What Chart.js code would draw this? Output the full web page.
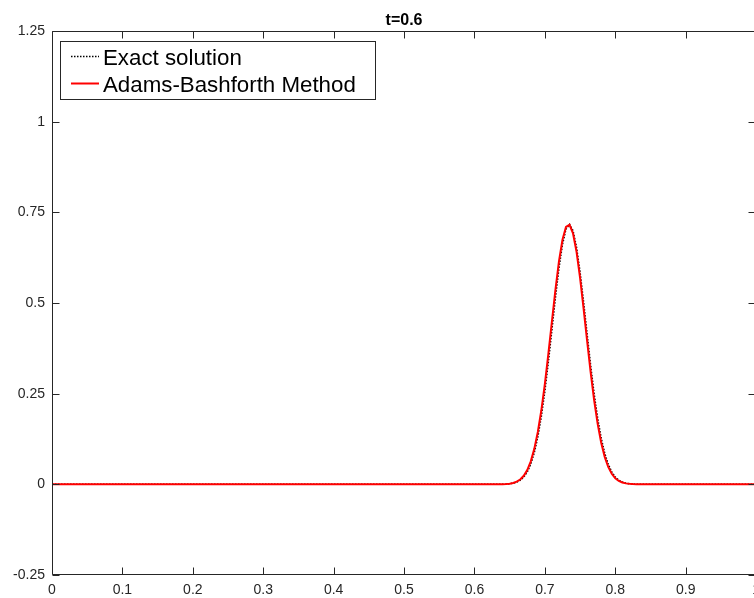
<!DOCTYPE html>
<html><head><meta charset="utf-8">
<script src="https://cdn.jsdelivr.net/npm/chart.js@4/dist/chart.umd.min.js"></script>
<style>
html,body{margin:0;padding:0;overflow:hidden;background:#fff;width:754px;height:598px}
#wrap{position:absolute;left:0;top:0;width:767px;height:598px}
</style></head><body>
<div id="wrap"><canvas id="c" width="767" height="598"></canvas></div>
<script>
const titleText = 't=0.6';
const seriesNames = ['Exact solution', 'Adams-Bashforth Method'];
const xValues = [0, 0.6, 0.64, 0.645, 0.65, 0.655, 0.66, 0.665, 0.67, 0.675, 0.68, 0.685, 0.69, 0.695, 0.70, 0.705, 0.71, 0.715, 0.72, 0.725, 0.73, 0.735, 0.74, 0.745, 0.75, 0.755, 0.76, 0.765, 0.77, 0.775, 0.78, 0.785, 0.79, 0.795, 0.80, 0.805, 0.81, 0.815, 0.82, 0.825, 0.83, 0.86, 1];
const exactValues = [0, 0, 0.0003, 0.0007, 0.0015, 0.0031, 0.0060, 0.0112, 0.0200, 0.0341, 0.0558, 0.0873, 0.1304, 0.1868, 0.2563, 0.3373, 0.4251, 0.5139, 0.5954, 0.6611, 0.7036, 0.7170, 0.6995, 0.6535, 0.5854, 0.5029, 0.4149, 0.3285, 0.2496, 0.1823, 0.1277, 0.0859, 0.0554, 0.0343, 0.0204, 0.0116, 0.0063, 0.0033, 0.0017, 0.0008, 0.0004, 0, 0];
const abValues = [0, 0, 0.0004, 0.0009, 0.0019, 0.0039, 0.0073, 0.0134, 0.0235, 0.0394, 0.0634, 0.0978, 0.1443, 0.2042, 0.2771, 0.3603, 0.4490, 0.5365, 0.6144, 0.6744, 0.7096, 0.7156, 0.6917, 0.6410, 0.5693, 0.4845, 0.3954, 0.3093, 0.2318, 0.1667, 0.1148, 0.0758, 0.0479, 0.0291, 0.0169, 0.0094, 0.0050, 0.0026, 0.0013, 0.0006, 0.0003, 0, 0];
const xTicks = [0, 0.1, 0.2, 0.3, 0.4, 0.5, 0.6, 0.7, 0.8, 0.9, 1];
const yTicks = [-0.25, 0, 0.25, 0.5, 0.75, 1, 1.25];

const AXIS = '#262626';
const FONT = '"Liberation Sans", Arial, Helvetica, sans-serif';

const toPts = (xs, ys) => xs.map((x, i) => ({x: x, y: ys[i]}));

const decor = {
  id: 'decor',
  afterDatasetsDraw(chart) {
    const ctx = chart.ctx, a = chart.chartArea;
    const xs = chart.scales.x, ys = chart.scales.y;
    const L = Math.round(a.left) + 0.5, R = Math.round(a.right) - 0.5;
    const T = Math.round(a.top) + 0.5, B = Math.round(a.bottom) - 0.5;
    ctx.save();
    ctx.strokeStyle = AXIS;
    ctx.lineWidth = 1;
    ctx.beginPath();
    ctx.rect(L, T, R - L, B - T);
    const tl = 7;
    xTicks.forEach(v => {
      const p = Math.round(xs.getPixelForValue(v)) + 0.5;
      ctx.moveTo(p, B); ctx.lineTo(p, B - tl);
      ctx.moveTo(p, T); ctx.lineTo(p, T + tl);
    });
    yTicks.forEach(v => {
      const p = Math.round(ys.getPixelForValue(v)) + 0.5;
      ctx.moveTo(L, p); ctx.lineTo(L + tl, p);
      ctx.moveTo(R, p); ctx.lineTo(R - tl, p);
    });
    ctx.stroke();

    // title
    ctx.fillStyle = '#000';
    ctx.font = 'bold 16px ' + FONT;
    ctx.textAlign = 'center';
    ctx.textBaseline = 'alphabetic';
    ctx.fillText(titleText, (a.left + a.right) / 2, 24.5);

    // legend
    const bx = 60.5, by = 41.5, bw = 315, bh = 58;
    ctx.fillStyle = '#fff';
    ctx.fillRect(bx, by, bw, bh);
    ctx.strokeStyle = AXIS;
    ctx.lineWidth = 1;
    ctx.strokeRect(bx, by, bw, bh);
    const rows = [56, 83];
    chart.data.datasets.forEach((ds, i) => {
      ctx.save();
      ctx.strokeStyle = ds.borderColor;
      ctx.lineWidth = ds.borderWidth;
      ctx.setLineDash(ds.borderDash || []);
      ctx.beginPath();
      ctx.moveTo(71, rows[i] + 0.5);
      ctx.lineTo(99, rows[i] + 0.5);
      ctx.stroke();
      ctx.restore();
      ctx.fillStyle = '#000';
      ctx.font = '22.3px ' + FONT;
      ctx.textAlign = 'left';
      ctx.textBaseline = 'alphabetic';
      ctx.fillText(seriesNames[i], 103, rows[i] + 9);
    });
    ctx.restore();
  }
};

new Chart(document.getElementById('c'), {
  type: 'line',
  data: {
    datasets: [
      {
        label: seriesNames[0],
        data: toPts(xValues, exactValues),
        borderColor: '#000000',
        borderWidth: 1.5,
        borderDash: [1.5, 1.5],
        pointRadius: 0,
        tension: 0,
        order: 1
      },
      {
        label: seriesNames[1],
        data: toPts(xValues, abValues),
        borderColor: '#ff0000',
        borderWidth: 2,
        pointRadius: 0,
        tension: 0,
        order: 0
      }
    ]
  },
  options: {
    responsive: false,
    animation: false,
    devicePixelRatio: 1,
    layout: {padding: {top: 31, right: 7, left: 0, bottom: 0}},
    plugins: {legend: {display: false}, tooltip: {enabled: false}, title: {display: false}},
    scales: {
      x: {
        type: 'linear', min: 0, max: 1,
        afterBuildTicks: s => { s.ticks = xTicks.map(v => ({value: v})); },
        afterFit: s => { s.height = 23; },
        grid: {display: false, drawTicks: false},
        border: {display: false},
        ticks: {
          color: '#262626', padding: 7, maxRotation: 0, autoSkip: false,
          font: {family: FONT, size: 14},
          callback: v => String(v)
        }
      },
      y: {
        type: 'linear', min: -0.25, max: 1.25,
        afterBuildTicks: s => { s.ticks = yTicks.map(v => ({value: v})); },
        afterFit: s => { s.width = 52; },
        grid: {display: false, drawTicks: false},
        border: {display: false},
        ticks: {
          color: '#262626', padding: 7, autoSkip: false,
          font: {family: FONT, size: 14},
          callback: v => String(v)
        }
      }
    }
  },
  plugins: [decor]
});
</script>
</body></html>
